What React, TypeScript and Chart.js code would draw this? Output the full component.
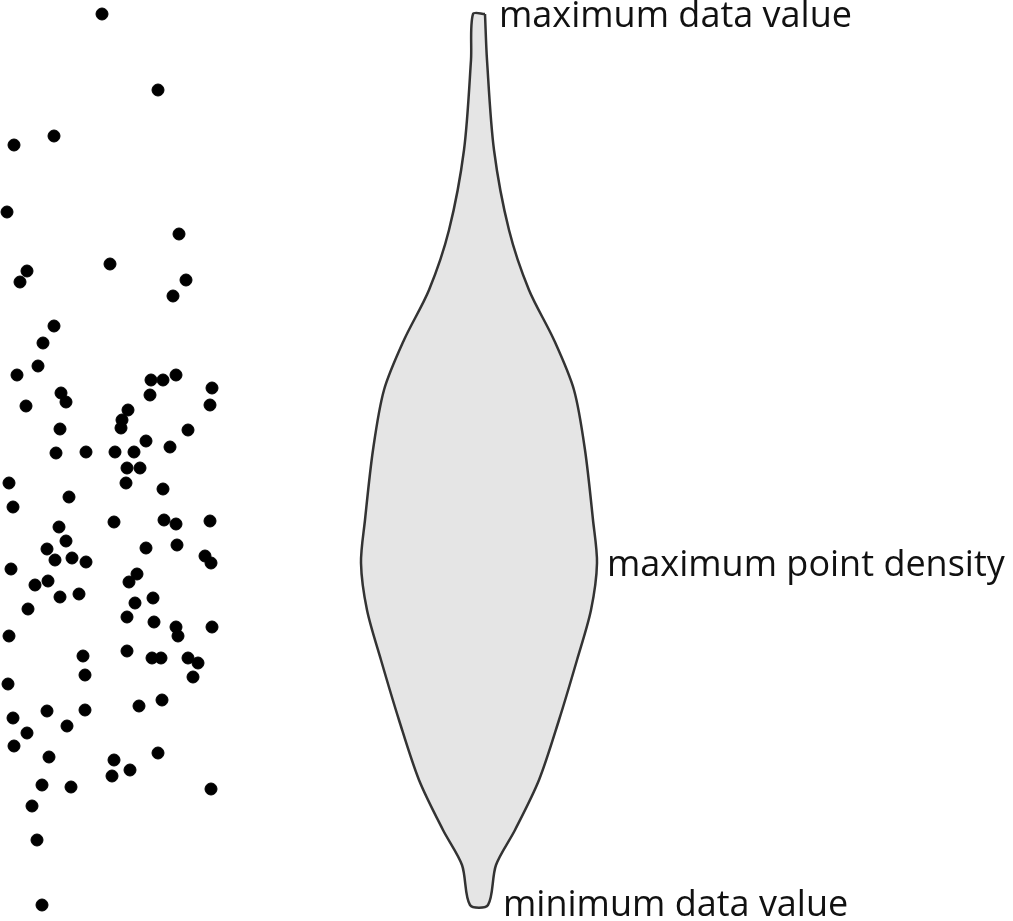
import React, { useEffect, useRef } from "react";
import { Chart, registerables } from "chart.js";
Chart.register(...registerables);

const dotX = [102,158,14,54,7,179,110,27,20,186,173,54,43,38,17,151,163,176,212,61,150,66,26,128,210,122,60,121,188,146,170,56,86,115,134,127,140,126,163,9,69,13,114,164,176,210,59,66,47,177,146,55,72,86,205,211,11,137,48,35,129,79,60,153,135,28,127,154,176,212,9,178,83,127,152,161,188,198,85,193,162,8,139,85,47,13,67,27,14,158,49,114,130,112,42,71,211,32,37,42];
const dotY = [14,90,145,136,212,234,264,271,282,280,296,326,343,366,375,380,380,375,388,393,395,402,406,410,405,420,429,428,430,441,447,453,452,452,452,468,468,483,489,483,497,507,522,520,524,521,527,541,549,545,548,560,558,562,556,563,569,574,581,585,582,594,597,598,603,609,617,622,627,627,636,636,656,651,658,658,658,663,675,677,700,684,706,710,711,718,726,733,746,753,757,760,770,776,785,787,789,806,840,905];

const violinCenter = 479;
const violinY = [14, 60, 150, 230, 290, 340, 390, 450, 520, 563, 610, 660, 720, 780, 830, 865, 905];
const violinHalf = [6, 8, 15, 30, 50, 75, 95, 106, 114, 118, 112, 98, 80, 60, 36, 17, 9];

const labels = [
  { text: "maximum data value", x: 499, y: 17 },
  { text: "maximum point density", x: 607, y: 566 },
  { text: "minimum data value", x: 503, y: 906 },
];

export default function App() {
  const ref = useRef<HTMLCanvasElement>(null);
  useEffect(() => {
    const outline: { x: number; y: number }[] = [];
    violinY.forEach((y, i) => outline.push({ x: violinCenter + violinHalf[i], y }));
    for (let i = violinY.length - 1; i >= 0; i--) outline.push({ x: violinCenter - violinHalf[i], y: violinY[i] });
    outline.push({ ...outline[0] });
    const textPlugin = {
      id: "labels",
      afterDraw(chart: any) {
        const { ctx, scales } = chart;
        ctx.save();
        ctx.font = "36px 'Open Sans'";
        ctx.fillStyle = "#111";
        ctx.textBaseline = "middle";
        labels.forEach((l) => ctx.fillText(l.text, scales.x.getPixelForValue(l.x), scales.y.getPixelForValue(l.y)));
        ctx.restore();
      },
    };
    const chart = new Chart(ref.current!, {
      type: "scatter",
      data: {
        datasets: [
          {
            data: outline,
            showLine: true,
            fill: "shape",
            backgroundColor: "#e5e5e5",
            borderColor: "#333",
            borderWidth: 2.5,
            pointRadius: 0,
            tension: 0.3,
          } as any,
          {
            data: dotX.map((x, i) => ({ x, y: dotY[i] })),
            backgroundColor: "#000",
            borderColor: "#000",
            pointRadius: 6,
          },
        ],
      },
      options: {
        animation: false,
        responsive: false,
        layout: { padding: 0, autoPadding: false } as any,
        plugins: { legend: { display: false }, tooltip: { enabled: false } },
        scales: {
          x: { type: "linear", min: 0, max: 1013, display: false },
          y: { type: "linear", min: 0, max: 921, reverse: true, display: false },
        },
      },
      plugins: [textPlugin],
    });
    return () => chart.destroy();
  }, []);
  return (
    <div style={{ position: "fixed", left: 0, top: 0, width: 1013, height: 921, background: "#fff" }}>
      <canvas ref={ref} width={1013} height={921} style={{ width: 1013, height: 921 }} />
    </div>
  );
}
